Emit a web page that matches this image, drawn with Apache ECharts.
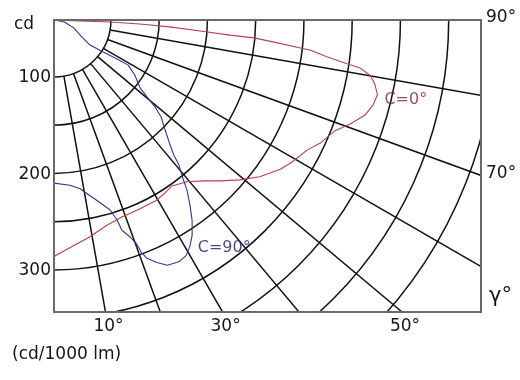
<!DOCTYPE html>
<html>
<head>
<meta charset="utf-8">
<script src="https://cdn.jsdelivr.net/npm/echarts@6/dist/echarts.min.js"></script>
<style>
  html, body { margin: 0; padding: 0; background: #fff; }
  #chart { width: 520px; height: 380px; }
</style>
</head>
<body>
<div id="chart"></div>
<script>
// Luminous intensity distribution (cd per 1000 lm), gamma measured from nadir.

// Grid: gamma rays and intensity rings
const gammaLines = [10, 20, 30, 40, 50, 60, 70, 80];
const intensityRings = [100, 150, 200, 250, 300, 350, 400, 450, 500];
const intensityLabels = [100, 200, 300];
const gammaLabelsBottom = [10, 30, 50];
const gammaLabelsRight = [70, 90];

// C = 0° plane
const c0Gamma = [0, 4.3, 9.2, 14.2, 19.0, 24.2, 29.2, 32.7, 35.4, 39.4, 43.0, 46.0, 49.3,
  52.7, 56.6, 59.1, 62.8, 65.2, 68.5, 70.6, 73.0, 75.0, 77.0, 78.7, 80.0, 81.1, 81.5,
  82.3, 83.3, 83.5, 84.3, 84.9, 85.1, 85.7, 86.6, 87.3, 88.0, 87.8, 90];
const c0Intensity = [286, 277, 269, 261, 257, 256, 256, 254, 252, 258, 269, 281, 295,
  309, 322, 328, 336, 345, 354, 366, 378, 383, 385, 380, 374, 362, 348,
  327, 308, 298, 269, 249, 224, 193, 161, 130, 99, 68, 41];

// C = 90° plane
const c90Gamma = [0, 5.5, 8.8, 11.6, 14.1, 16.4, 17.5, 17.9, 19.3, 20.3, 20.6, 21.3, 23.0,
  24.8, 27.3, 29.2, 30.9, 32.7, 34.6, 36.3, 38.0, 39.2, 40.8, 41.6, 43.3, 45.3, 47.8,
  49.3, 50.4, 51.7, 55.8, 58.7, 58.1, 56.6, 55.2, 58.7, 68.2, 78.7, 90];
const c90Intensity = [210, 213, 218, 227, 236, 246, 258, 270, 279, 289, 298, 306, 314,
  321, 323, 321, 315, 306, 293, 279, 265, 252, 239, 228, 215, 203, 191,
  179, 166, 155, 142, 131, 115, 99, 86, 75, 63, 52, 41];

// Layout
const FONT = 'DejaVu Sans';
const CENTER = [54, 20];
const BOX = { x: 54, y: 20, w: 427, h: 292 };
const R_MIN = 41, R_MAX = 590;
const PX_PER_CD = 0.965;
const GRID_COLOR = '#111';
const GRID_WIDTH = 1.5;

const pairs = (g, v) => g.map((a, i) => [v[i], a]);

const spokes = gammaLines.map(g => ({
  type: 'line', coordinateSystem: 'polar', silent: true, animation: false,
  symbol: 'none', z: 3,
  lineStyle: { color: GRID_COLOR, width: GRID_WIDTH },
  data: [[intensityRings[0], g], [R_MAX, g]]
}));

const C0_LABEL_AT = 22;
const C90_LABEL_AT = 16;

const option = {
  backgroundColor: '#fff',
  animation: false,
  polar: { center: CENTER, radius: PX_PER_CD * (R_MAX - R_MIN) },
  angleAxis: {
    type: 'value', min: 0, max: 90, startAngle: 270, endAngle: 360, clockwise: false,
    axisLine: { show: false }, axisTick: { show: false }, axisLabel: { show: false },
    splitLine: { show: false }
  },
  radiusAxis: {
    type: 'value', min: R_MIN, max: R_MAX,
    axisLine: { show: false },
    axisTick: { show: false, customValues: intensityRings },
    axisLabel: { show: false },
    splitLine: { show: true, lineStyle: { color: GRID_COLOR, width: GRID_WIDTH } }
  },
  series: [
    ...spokes,
    {
      name: 'C=0°', type: 'line', coordinateSystem: 'polar', symbol: 'none',
      silent: true, z: 5,
      lineStyle: { color: '#b8404e', width: 1.1 },
      data: pairs(c0Gamma, c0Intensity)
    },
    {
      name: 'C=90°', type: 'line', coordinateSystem: 'polar', symbol: 'none',
      silent: true, z: 5,
      lineStyle: { color: '#32378f', width: 1.1 },
      data: pairs(c90Gamma, c90Intensity)
    },
    {
      type: 'scatter', coordinateSystem: 'polar', symbolSize: 0, silent: true, z: 6,
      data: [{
        value: [c0Intensity[C0_LABEL_AT], c0Gamma[C0_LABEL_AT]],
        label: { show: true, formatter: 'C=0°', position: 'right', distance: 7, offset: [0, 5],
          color: '#862028', fontSize: 16, fontFamily: FONT }
      }, {
        value: [c90Intensity[C90_LABEL_AT], c90Gamma[C90_LABEL_AT]],
        label: { show: true, formatter: 'C=90°', position: 'right', distance: 8, offset: [0, 1],
          color: '#1a1c66', fontSize: 16, fontFamily: FONT }
      }]
    }
  ]
};

const chart = echarts.init(document.getElementById('chart'), null, { renderer: 'canvas' });
chart.setOption(option);

// Axis texts positioned through the polar scale
const toPx = v => chart.convertToPixel({ seriesIndex: 0 }, v);
const bottomY = BOX.y + BOX.h;
const rightX = BOX.x + BOX.w;
const textStyle = (extra) => Object.assign({ fill: '#161616', font: '17px "' + FONT + '"' }, extra);

const graphics = [
  // mask outside of the frame
  { type: 'rect', z: 50, silent: true, shape: { x: 0, y: bottomY + 1, width: 520, height: 380 - bottomY }, style: { fill: '#fff' } },
  { type: 'rect', z: 50, silent: true, shape: { x: rightX + 1, y: 0, width: 520 - rightX, height: 380 }, style: { fill: '#fff' } },
  // frame
  { type: 'rect', z: 60, silent: true, shape: { x: BOX.x, y: BOX.y, width: BOX.w, height: BOX.h },
    style: { fill: 'none', stroke: '#6a6a6a', lineWidth: 2 } },
  { type: 'text', z: 70, x: 14, y: 25, style: textStyle({ text: 'cd', verticalAlign: 'middle' }) },
  { type: 'text', z: 70, x: 12, y: 355, style: textStyle({ text: '(cd/1000 lm)', verticalAlign: 'middle' }) },
  { type: 'text', z: 70, x: 489, y: 297, style: textStyle({ text: 'γ°', font: '21px "' + FONT + '"', verticalAlign: 'middle' }) }
];

intensityLabels.forEach(v => {
  const p = toPx([v, 0]);
  graphics.push({ type: 'text', z: 70, x: 51, y: p[1] + 1,
    style: textStyle({ text: String(v), align: 'right', verticalAlign: 'middle' }) });
});

gammaLabelsBottom.forEach(g => {
  const p = toPx([R_MAX, g]);
  const t = (bottomY - CENTER[1]) / (p[1] - CENTER[1]);
  const x = CENTER[0] + (p[0] - CENTER[0]) * t;
  graphics.push({ type: 'text', z: 70, x: x + 3, y: 327,
    style: textStyle({ text: g + '°', align: 'center', verticalAlign: 'middle' }) });
});

gammaLabelsRight.forEach(g => {
  const p = toPx([R_MAX, g]);
  const t = (rightX - CENTER[0]) / (p[0] - CENTER[0]);
  const y = CENTER[1] + (p[1] - CENTER[1]) * t;
  graphics.push({ type: 'text', z: 70, x: 486, y: y - 2,
    style: textStyle({ text: g + '°', verticalAlign: 'middle' }) });
});

chart.setOption({ graphic: graphics });
</script>
</body>
</html>
